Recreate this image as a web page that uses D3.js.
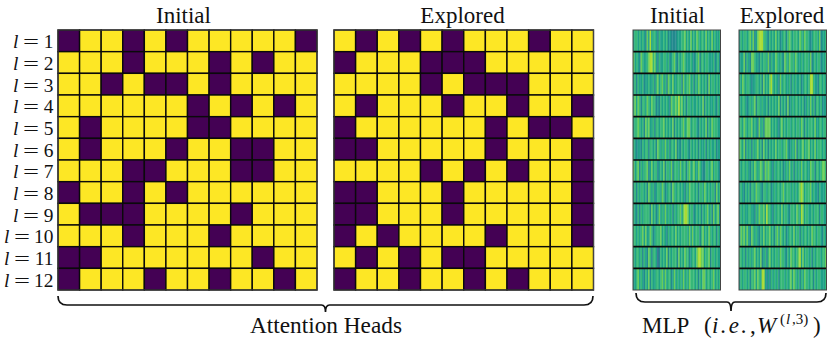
<!DOCTYPE html>
<html>
<head>
<meta charset="utf-8">
<script src="https://cdn.jsdelivr.net/npm/d3@7"></script>
<style>
  html, body { margin: 0; padding: 0; background: #fff; }
  text { font-family: "Liberation Serif", serif; fill: #111; }
</style>
</head>
<body>
<div id="chart"></div>
<script>
"use strict";

var layers = ["1","2","3","4","5","6","7","8","9","10","11","12"];

// attention heads, 1 = dark cell, 0 = yellow cell
var headsInitial = [
  [1,0,0,1,0,1,0,0,0,0,0,1],
  [0,0,0,1,0,0,0,1,0,1,0,0],
  [0,0,1,0,1,1,0,1,0,0,0,0],
  [0,0,0,0,0,0,1,0,1,0,1,0],
  [0,1,0,0,0,0,1,1,0,0,0,0],
  [0,1,0,0,0,1,0,0,1,1,0,0],
  [0,0,0,1,1,0,0,0,1,1,0,0],
  [1,0,0,1,0,1,0,0,0,0,0,0],
  [0,1,1,1,0,0,0,0,1,0,0,0],
  [0,0,0,1,0,0,0,1,0,0,0,0],
  [1,1,0,0,0,0,0,0,0,1,0,0],
  [1,0,0,0,1,0,0,1,0,0,1,0]
];
var headsExplored = [
  [0,1,0,1,0,1,0,0,0,1,0,0],
  [1,0,0,0,1,1,1,0,0,0,0,0],
  [0,0,0,0,1,0,1,1,1,0,0,0],
  [0,1,0,0,0,1,0,0,1,0,0,1],
  [1,0,0,0,0,0,0,1,0,1,1,0],
  [1,1,0,0,0,0,0,1,0,0,0,1],
  [0,0,0,0,1,0,1,0,1,0,0,1],
  [1,1,0,0,0,1,0,0,0,0,0,1],
  [1,1,0,0,0,1,0,0,0,0,0,1],
  [1,0,1,0,0,0,0,1,0,0,0,1],
  [0,1,0,1,0,1,1,0,0,0,0,0],
  [1,0,0,1,0,0,1,0,1,0,0,0]
];

// MLP weights per layer, one digit per stripe (position on the viridis ramp), read by eye
var mlpInitial = [
  "5665656547585665465565645444455566756575657656657565756556",
  "7565476556788675465566564567546567655565456746656655564564",
  "5646556455655646756756476575566647566756465765656475665656",
  "6757646657657664546565654766768675646656556565746565565465",
  "5667656476755646656675656574656567567756665465657465766655",
  "6545546566466564765657564665745465665465656465564656556455",
  "7567465667457566456574665746665756646756755765446656756654",
  "5646566564765645665764566476566565465766656466576565664756",
  "6546465666647564575657565646566757887566456564656756475674",
  "6656567575576456667565465665756566665757566646756576566465",
  "6566564654764665346565746566647565766456657887756674665655",
  "5567565465746556656757566457565657565766656465775665675656"
];
var mlpExplored = [
  "5656656757457888665465657564566467656665765766545666574556",
  "5557465477655465665746557656547657665765565666574565664556",
  "6576566545566564756578656547566556465655645665688655466565",
  "6566545656746656556465656574656474565665656456575646656455",
  "6657656675654756477775656546756566566566576465666575566566",
  "7657465646567564756465657566566754565746567566756575666565",
  "6566565465765676476765465665645657564656575665576646656776",
  "5654656466576654665664565665675666565656787566675655465556",
  "5656556655465766758665465665756654666576587566556566646655",
  "5767575476565465756675646757656456657566465665657665665465",
  "6656465656756574564675656657665465766567857566564656665667",
  "5656656466757658854546565646665656757656465766566465665556"
];

var width = 831, height = 340;
var viridis = d3.interpolateViridis;

var svg = d3.select("#chart").append("svg")
  .attr("width", width)
  .attr("height", height)
  .style("display", "block");

var yRows = d3.scaleBand().domain(d3.range(12)).range([30, 290]);

function drawHeads(data, x0, x1) {
  var x = d3.scaleBand().domain(d3.range(12)).range([x0, x1]);
  var g = svg.append("g");
  data.forEach(function(row, r) {
    g.selectAll(null)
      .data(row)
      .enter()
      .append("rect")
      .attr("x", function(d, i) { return x(i); })
      .attr("y", yRows(r))
      .attr("width", x.bandwidth())
      .attr("height", yRows.bandwidth())
      .attr("fill", function(d) { return d ? "#440154" : "#fde725"; })
      .attr("stroke", "#0a0a0a")
      .attr("stroke-width", 1.4);
  });
  g.append("rect")
    .attr("x", x0).attr("y", 30)
    .attr("width", x1 - x0).attr("height", 260)
    .attr("fill", "none")
    .attr("stroke", "#444")
    .attr("stroke-width", 1);
}

function drawMlp(rows, x0, x1) {
  var g = svg.append("g");
  rows.forEach(function(str, r) {
    var vals = str.split("").map(function(c) { return +c / 10 + 0.07; });
    var x = d3.scaleBand().domain(d3.range(vals.length)).range([x0, x1]);
    g.selectAll(null)
      .data(vals)
      .enter()
      .append("rect")
      .attr("x", function(d, i) { return x(i); })
      .attr("y", yRows(r))
      .attr("width", x.bandwidth() + 0.3)
      .attr("height", yRows.bandwidth())
      .attr("fill", function(d) { return viridis(d); });
    if (r > 0) {
      g.append("line")
        .attr("x1", x0).attr("x2", x1)
        .attr("y1", yRows(r)).attr("y2", yRows(r))
        .attr("stroke", "#0a0a0a")
        .attr("stroke-width", 1.7);
    }
  });
  g.append("rect")
    .attr("x", x0).attr("y", 30)
    .attr("width", x1 - x0).attr("height", 260)
    .attr("fill", "none")
    .attr("stroke", "#444")
    .attr("stroke-width", 1);
}

drawHeads(headsInitial, 58, 317);
drawHeads(headsExplored, 334, 593.5);
drawMlp(mlpInitial, 633, 720.5);
drawMlp(mlpExplored, 739, 826.5);

// titles
function title(txt, cx) {
  svg.append("text")
    .attr("x", cx).attr("y", 23)
    .attr("text-anchor", "middle")
    .attr("font-size", 23)
    .text(txt);
}
title("Initial", 183.5);
title("Explored", 462.5);
title("Initial", 677.5);
title("Explored", 782);

// layer labels: l, a stretched equals sign, then the number
var labelG = svg.append("g").selectAll("g")
  .data(layers)
  .enter()
  .append("g")
  .attr("transform", function(d, i) {
    return "translate(" + (d.length > 1 ? -9 : 0) + "," + (yRows(i) + yRows.bandwidth() / 2 + 7.5) + ")";
  })
  .attr("font-size", 19.4);
labelG.append("text")
  .attr("x", 13)
  .attr("font-style", "italic")
  .text("l");
labelG.append("text")
  .attr("x", 23)
  .attr("textLength", 16)
  .attr("lengthAdjust", "spacingAndGlyphs")
  .text("=");
labelG.append("text")
  .attr("x", function(d) { return d.length > 1 ? 62.5 : 53.5; })
  .attr("text-anchor", "end")
  .text(function(d) { return d; });

// curly brace under a group of panels
function brace(x0, x1, yTop, yLine, yTip) {
  var r = yLine - yTop, mid = (x0 + x1) / 2, p = d3.path();
  p.moveTo(x0, yTop);
  p.quadraticCurveTo(x0, yLine, x0 + r, yLine);
  p.lineTo(mid - 4, yLine);
  p.quadraticCurveTo(mid, yLine, mid, yTip);
  p.quadraticCurveTo(mid, yLine, mid + 4, yLine);
  p.lineTo(x1 - r, yLine);
  p.quadraticCurveTo(x1, yLine, x1, yTop);
  svg.append("path")
    .attr("d", p.toString())
    .attr("fill", "none")
    .attr("stroke", "#111")
    .attr("stroke-width", 1.7);
}
brace(58, 593, 296, 305, 312);
brace(636, 826, 293, 302, 311);

svg.append("text")
  .attr("x", 326).attr("y", 333)
  .attr("text-anchor", "middle")
  .attr("font-size", 23.3)
  .text("Attention Heads");

// MLP label, each piece placed on its own to get the math spacing
var mlpParts = [
  { s: "MLP", x: 642, y: 333, size: 23 },
  { s: "(", x: 704, y: 333, size: 23 },
  { s: "i.e.", x: 712, y: 333, size: 23, it: true, ls: 2.3 },
  { s: ",", x: 750, y: 333, size: 23 },
  { s: "W", x: 757, y: 333, size: 23, it: true },
  { s: "(", x: 780, y: 324, size: 15 },
  { s: "l", x: 786, y: 324, size: 15, it: true },
  { s: ",3)", x: 792, y: 324, size: 15 },
  { s: ")", x: 813, y: 333, size: 23 }
];
svg.append("g").selectAll("text")
  .data(mlpParts)
  .enter()
  .append("text")
  .attr("x", function(d) { return d.x; })
  .attr("y", function(d) { return d.y; })
  .attr("font-size", function(d) { return d.size; })
  .attr("font-style", function(d) { return d.it ? "italic" : null; })
  .attr("letter-spacing", function(d) { return d.ls || null; })
  .text(function(d) { return d.s; });
</script>
</body>
</html>
